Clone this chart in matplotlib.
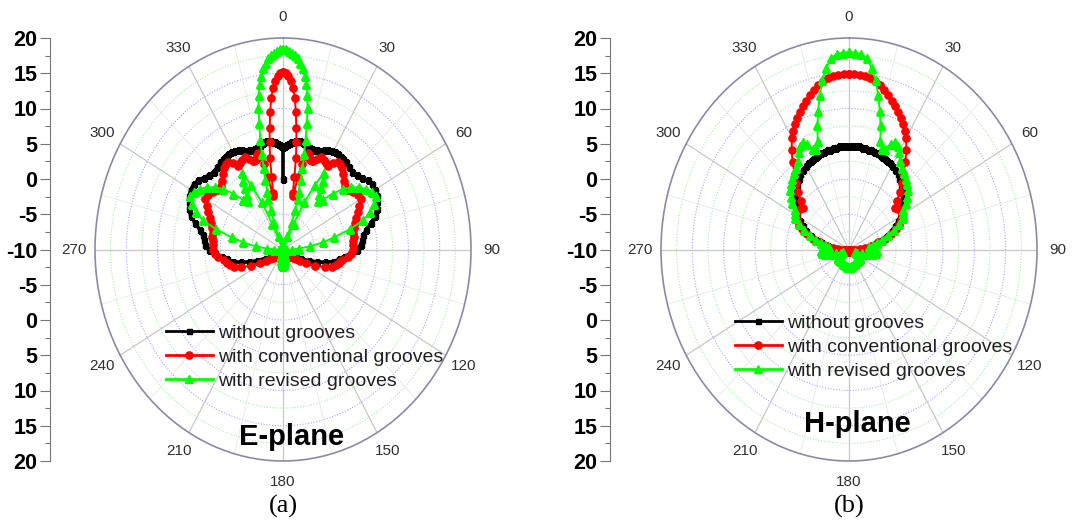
import numpy as np
import matplotlib
matplotlib.use("Agg")
import matplotlib.pyplot as plt
from matplotlib.ticker import FixedLocator

plt.rcParams['font.family'] = ['Liberation Sans', 'DejaVu Sans']

# Patterns are symmetric about 0 deg: values read for 0..180 deg, mirrored for 180..360
E_ANG = [0, 1, 2, 3, 4, 5, 6, 7, 8, 9, 10, 11, 12, 13, 14, 15, 16, 17, 18, 19, 20, 21,
         23, 25, 27, 29, 31, 33, 35, 37, 39,
         42, 45, 48, 51, 54, 57, 60, 63, 66, 69, 72, 75, 78, 81, 84, 87, 90,
         93, 96, 99, 102, 105, 108, 111, 114, 117, 120, 123, 126, 129, 132, 135,
         138, 141, 144, 147, 150, 153, 156, 159, 162, 165, 168, 171, 174, 177, 180]

E_NONE = [4.6, 4.7, 4.8, 5.0, 5.1, 5.3, 5.4, 5.5, 5.6, 5.6, 5.6, 5.5, 5.4, 5.3, 5.2, 5.1, 5.0, 5.0, 5.0, 5.0, 5.0, 5.1,
          5.2, 5.5, 5.8, 6.0, 6.1, 6.2, 6.1, 6.0, 5.9,
          5.7, 5.6, 5.8, 6.2, 6.7, 7.0, 7.0, 6.8, 6.4, 6.0, 5.5, 4.5, 3.6, 3.0, 2.7, 2.4, 1.8,
          0.8, -0.2, -1.0, -1.8, -3.0, -4.3, -5.6, -6.8, -7.6, -8.1, -8.5, -8.8, -9.0, -9.1, -9.2,
          -9.3, -9.3, -9.4, -9.4, -9.5, -9.5, -9.6, -9.6, -9.6, -9.7, -9.7, -9.7, -9.8, -9.8, -9.8]
E_NONE_FIRST = 0.0   # stray first sample of the black E-plane trace (at 0 deg)

E_CONV = [15.2, 15.0, 14.6, 14.0, 13.0, 11.6, 9.6, 7.4, 5.4, 3.2, 0.5, -1.8, -2.3, 0.5, 2.5, 3.8, 4.2, 4.0, 3.6, 3.4, 3.3, 3.4,
          3.9, 4.4, 4.3, 4.0, 3.9, 4.7, 5.2, 5.2, 4.9,
          4.4, 3.8, 3.4, 3.3, 3.8, 4.3, 4.3, 3.7, 3.1, 2.5, 2.0, 1.7, 1.5, 1.4, 1.3, 1.2, 1.1,
          0.9, 0.4, -0.4, -0.9, -1.3, -1.8, -2.9, -4.4, -5.8, -6.8, -7.5, -8.0, -8.4, -8.7, -8.9,
          -9.1, -9.2, -9.3, -9.4, -9.4, -9.5, -9.5, -9.6, -9.6, -9.6, -9.7, -9.7, -9.7, -9.7, -9.7]

E_REV = [18.5, 18.4, 18.2, 17.9, 17.6, 17.2, 16.6, 15.9, 14.9, 13.8, 12.3, 10.5, 8.3, 6.0, 4.0, 2.0, 0.3, -1.5, -2.5, -4.0, -6.0, -8.0,
         -9.5, -6.0, -2.5, 0.5, 2.6, 1.6, 0.6, -0.4, -1.2,
         -0.5, 1.2, 2.8, 4.0, 5.0, 5.8, 6.4, 6.6, 5.9, 4.8, 3.5, 1.0, -1.6, -3.6, -5.6, -7.5, -8.6,
         -9.3, -9.6, -9.8, -9.8, -9.8, -9.8, -9.8, -9.8, -9.8, -9.8, -9.8, -9.8, -9.8, -9.8, -9.8,
         -9.8, -9.8, -9.8, -9.8, -9.8, -9.7, -9.6, -9.5, -9.3, -9.0, -8.7, -8.3, -8.0, -7.8, -7.7]

H_ANG = [0, 2, 4, 6, 8, 10, 12, 14, 16, 18, 20, 22, 24, 26, 28, 30,
         33, 36, 39, 42, 45, 48, 51, 54, 57, 60, 63, 66, 69, 72, 75, 78, 81, 84, 87, 90,
         93, 96, 99, 102, 105, 108, 111, 114, 117, 120, 123, 126, 129, 132, 135,
         138, 141, 144, 147, 150, 153, 156, 159, 162, 165, 168, 171, 174, 177, 180]

H_NONE = [4.7, 4.7, 4.7, 4.7, 4.6, 4.6, 4.5, 4.5, 4.4, 4.4, 4.3, 4.2, 4.1, 4.0, 3.9, 3.7,
          3.5, 3.2, 2.8, 2.4, 2.0, 1.6, 1.0, 0.5, 0.0, -0.5, -1.2, -1.9, -2.7, -3.6, -4.6, -5.6, -6.6, -7.4, -8.1, -8.6,
          -9.0, -9.3, -9.5, -9.6, -9.7, -9.7, -9.7, -9.7, -9.7, -9.7, -9.7, -9.7, -9.7, -9.7, -9.7,
          -9.7, -9.7, -9.7, -9.7, -9.7, -9.7, -9.7, -9.7, -9.7, -9.8, -9.8, -9.8, -9.8, -9.8, -9.8]

H_CONV = [14.9, 14.9, 14.85, 14.7, 14.5, 14.2, 13.8, 13.3, 12.8, 12.2, 11.6, 11.0, 10.4, 9.8, 9.0, 8.2,
          6.8, 5.3, 3.8, 2.6, 1.5, 0.3, -0.6, -0.3, -0.1, -0.3, -0.7, -1.3, -2.0, -2.9, -4.0, -5.2, -6.4, -7.4, -8.2, -8.8,
          -9.2, -9.4, -9.6, -9.7, -9.7, -9.7, -9.7, -9.7, -9.7, -9.7, -9.7, -9.7, -9.7, -9.7, -9.7,
          -9.7, -9.7, -9.7, -9.7, -9.7, -9.7, -9.7, -9.7, -9.7, -9.7, -9.7, -9.7, -9.7, -9.7, -9.7]

H_REV = [18.0, 17.95, 17.8, 17.3, 16.0, 14.4, 12.4, 10.3, 8.3, 6.2, 5.2, 5.4, 6.4, 6.9, 6.7, 6.0,
         5.0, 4.3, 3.9, 3.5, 3.1, 2.6, 1.9, 1.2, 0.3, 0.0, -0.3, -1.2, -2.3, -3.5, -4.6, -5.5, -6.2, -6.8, -6.5, -6.0,
         -5.6, -5.6, -6.2, -7.0, -7.9, -8.6, -9.0, -8.8, -8.4, -8.1, -7.9, -7.8, -7.8, -7.8, -7.8,
         -7.8, -7.9, -8.0, -8.0, -8.0, -7.9, -7.8, -7.8, -7.7, -7.7, -7.6, -7.6, -7.5, -7.5, -7.5]

LABELS = ["without grooves", "with conventional grooves", "with revised grooves"]
R_MIN, R_MAX = -10, 20
SCALE_TICKS = list(range(-30, 31, 5))      # left scale, mirrored about the centre
THETA_TICKS = list(range(0, 360, 30))

FIG_W, FIG_H = 1072, 524


def mirror(ang, vals):
    ang = np.asarray(ang, float)
    vals = np.asarray(vals, float)
    full_a = np.concatenate([ang, 360 - ang[::-1][1:]])
    full_v = np.concatenate([vals, vals[::-1][1:]])
    return np.deg2rad(full_a), full_v


def fx(px):
    return px / FIG_W


def fy(py):
    return 1 - py / FIG_H


def polar_panel(fig, cx):
    # ellipse in pixels: half width 188, half height 211.5, centre y 249.5
    ax = fig.add_axes([fx(cx - 188), fy(461), 376 / FIG_W, 423 / FIG_H], projection='polar')
    ax.set_aspect('auto')
    ax.set_theta_zero_location('N')
    ax.set_theta_direction(-1)
    ax.set_ylim(R_MIN, R_MAX)
    ax.set_yticks([])
    ax.set_thetagrids(THETA_TICKS, [str(t) for t in THETA_TICKS])
    ax.xaxis.set_minor_locator(FixedLocator(np.deg2rad(np.arange(15, 360, 30))))
    ax.xaxis.grid(True, which='major', color='#c8c8c8', lw=0.9)
    ax.xaxis.grid(True, which='minor', color='#e8e8e8', lw=0.6)
    ax.tick_params(axis='x', which='both', direction='in', length=4, color='#8a8aa8')
    ax.tick_params(axis='x', labelsize=11, labelcolor='#303030', pad=8)
    ax.spines['polar'].set_color('#8a8aa8')
    ax.spines['polar'].set_linewidth(1.2)
    ring = np.linspace(0, 2 * np.pi, 361)
    for k, r in enumerate(np.arange(-7.5, 20, 2.5)):
        col = '#a8a8ff' if k % 2 == 1 else '#a8eea8'
        ax.plot(ring, np.full_like(ring, r), ls=(0, (1, 1.5)), lw=0.8, color=col, zorder=1)
    return ax


def left_scale(fig, x_px):
    axl = fig.add_axes([fx(x_px), fy(461), 0.0005, 423 / FIG_H])
    axl.patch.set_visible(False)
    for s in ['top', 'right', 'bottom']:
        axl.spines[s].set_visible(False)
    axl.spines['left'].set_color('#777777')
    axl.set_xticks([])
    axl.set_ylim(-30, 30)
    axl.set_yticks(SCALE_TICKS, [str(abs(t) - 10) for t in SCALE_TICKS],
                   fontweight='bold', fontsize=15.5)
    axl.yaxis.set_minor_locator(FixedLocator(np.arange(-27.5, 30, 5)))
    axl.tick_params(axis='y', which='major', length=7, width=0.8, color='#777777', pad=2)
    axl.tick_params(axis='y', which='minor', length=3.5, width=0.8, color='#777777')


def draw(ax, ang, none, conv, rev, first=None):
    t, v = mirror(ang, none)
    if first is not None:
        t = np.concatenate([[0.0], t])
        v = np.concatenate([[first], v])
    l1, = ax.plot(t, v, color='black', marker='s', ms=3.6, lw=2.6, zorder=3)
    t, v = mirror(ang, conv)
    l2, = ax.plot(t, v, color='#ff0000', marker='o', ms=5.2, lw=1.4, zorder=4)
    t, v = mirror(ang, rev)
    l3, = ax.plot(t, v, color='#00ff00', marker='^', ms=5.6, lw=1.4, zorder=5)
    return [l1, l2, l3]


def add_legend(ax, handles, x_px, y_px):
    leg = ax.legend(handles, LABELS, loc='center left', bbox_to_anchor=(fx(x_px), fy(y_px)),
                    bbox_transform=fig.transFigure, frameon=False, borderpad=0, borderaxespad=0,
                    handlelength=2.4, handletextpad=0.3, labelspacing=0.32, fontsize=14,
                    numpoints=1, labelcolor='#202020')
    for line in leg.get_lines():
        line.set_linewidth(2.0)


fig = plt.figure(figsize=(FIG_W / 100, FIG_H / 100), dpi=100)

ax_e = polar_panel(fig, 283)
left_scale(fig, 50)
h = draw(ax_e, E_ANG, E_NONE, E_CONV, E_REV, first=E_NONE_FIRST)
add_legend(ax_e, h, 166, 357)

ax_h = polar_panel(fig, 849)
left_scale(fig, 610)
h = draw(ax_h, H_ANG, H_NONE, H_CONV, H_REV)
add_legend(ax_h, h, 735, 347)

fig.text(fx(292), fy(437), "E-plane", ha='center', va='center', fontsize=21, fontweight='bold')
fig.text(fx(857), fy(424), "H-plane", ha='center', va='center', fontsize=21, fontweight='bold')
fig.text(fx(283), fy(506), "(a)", ha='center', va='center', fontsize=19, family='Liberation Serif')
fig.text(fx(849), fy(506), "(b)", ha='center', va='center', fontsize=19, family='Liberation Serif')

fig.savefig('out.png', dpi=100)
